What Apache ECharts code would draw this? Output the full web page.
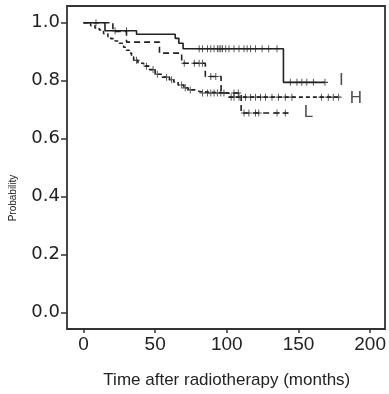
<!DOCTYPE html>
<html>
<head>
<meta charset="utf-8">
<script src="https://cdn.jsdelivr.net/npm/echarts@6/dist/echarts.min.js"></script>
<style>
html,body{margin:0;padding:0;background:#fff;}
#chart{width:389px;height:394px;}
</style>
</head>
<body>
<div id="chart"></div>
<script>
// ---- Data ----
const xTickValues = [0, 50, 100, 150, 200];
const yTickValues = [0.0, 0.2, 0.4, 0.6, 0.8, 1.0];

// Group I (solid)
const timesI = [0, 15, 37, 64, 66.5, 69.5, 139.5, 168.5];
const survI  = [1.0, 0.972, 0.96, 0.946, 0.929, 0.91, 0.794, 0.794];
const censorI = [8.7, 22, 30, 80.7, 83, 86.5, 88.8, 91.1, 93.4, 94.6, 95.8, 97, 99.2, 101.5, 105, 108.5, 112, 114.2, 116.6, 120, 124.6, 129.2, 135, 144.3, 148.9, 152.3, 155.8, 160.4, 168.5];

// Group H (fine dashes)
const timesH = [0, 5, 8, 11, 14, 17, 19, 22, 25, 28, 30, 32, 33.5, 35, 38, 42, 46, 50, 55, 60, 63, 66, 70, 73, 78, 81, 101.5, 178];
const survH  = [1.0, 0.99, 0.982, 0.975, 0.962, 0.952, 0.945, 0.937, 0.929, 0.915, 0.905, 0.895, 0.882, 0.87, 0.86, 0.85, 0.838, 0.822, 0.812, 0.803, 0.795, 0.785, 0.775, 0.768, 0.762, 0.757, 0.743, 0.743];
const censorH = [37, 44, 48.5, 51.5, 58, 61.5, 68.5, 71, 74.5, 83, 86.5, 88.8, 91.1, 93.4, 95.8, 98, 103, 105, 108.5, 113, 116.6, 120, 123.5, 127, 131.5, 136, 140.8, 145.4, 166, 170.8, 174.3, 178];

// Group L (dashed)
const timesL = [0, 20.5, 30, 53, 68.5, 85, 96, 110, 143];
const survL  = [1.0, 0.97, 0.933, 0.895, 0.86, 0.814, 0.757, 0.688, 0.688];
const censorL = [70.3, 77.3, 80.7, 83, 88.8, 92.3, 105, 108, 112, 115.4, 120, 122.3, 135, 140.8];

// Group labels (position in data units)
const groupNames = ['I', 'H', 'L'];
const groupLabelX = [180, 190, 157];
const groupLabelY = [0.80, 0.739, 0.689];

// ---- Helpers ----
function pairs(t, s) { return t.map((v, i) => [v, s[i]]); }
function survAt(t, s, x) {
  let v = s[0];
  for (let i = 0; i < t.length; i++) { if (t[i] <= x) v = s[i]; }
  return v;
}
function censorPts(times, t, s) { return times.map(x => [x, survAt(t, s, x)]); }

const ink = '#222';
const plus = 'path://M5,0L5,10M0,5L10,5';

function curve(name, t, s, type) {
  return {
    name, type: 'line', step: 'end', data: pairs(t, s),
    showSymbol: false, clip: false, xAxisIndex: 0, yAxisIndex: 0,
    lineStyle: { color: ink, width: 1.6, type: type },
    animation: false, silent: true
  };
}
function censors(name, times, t, s) {
  return {
    name: name + ' censored', type: 'scatter', data: censorPts(times, t, s),
    symbol: plus, symbolSize: [6, 7], clip: false, xAxisIndex: 0, yAxisIndex: 0,
    itemStyle: { color: 'rgba(0,0,0,0)', borderColor: ink, borderWidth: 1 },
    animation: false, silent: true
  };
}

const chart = echarts.init(document.getElementById('chart'), null, { renderer: 'canvas' });
chart.setOption({
  backgroundColor: '#fff',
  animation: false,
  grid: [
    { left: 83.5, right: 17, top: 22.7, bottom: 80.7, show: false },
    { left: 67, right: 4, top: 6, bottom: 65, show: true, borderColor: '#333', borderWidth: 1.8, backgroundColor: 'transparent' }
  ],
  xAxis: [
    {
      gridIndex: 0, type: 'value', min: xTickValues[0], max: xTickValues[xTickValues.length - 1], interval: 50,
      offset: 15.7,
      axisLine: { show: false, onZero: false },
      axisTick: { show: true, length: 5, lineStyle: { color: '#333', width: 1.5 } },
      axisLabel: { margin: 7, fontSize: 19, fontFamily: 'Liberation Sans', color: '#222' },
      splitLine: { show: false },
      name: 'Time after radiotherapy (months)', nameLocation: 'middle', nameGap: 44,
      nameTextStyle: { fontSize: 17, fontFamily: 'Liberation Sans', color: '#222' }
    },
    { gridIndex: 1, type: 'value', show: false, min: 0, max: 1 }
  ],
  yAxis: [
    {
      gridIndex: 0, type: 'value', min: yTickValues[0], max: yTickValues[yTickValues.length - 1], interval: 0.2,
      offset: 16.5,
      axisLine: { show: false, onZero: false },
      axisTick: { show: true, length: 6, lineStyle: { color: '#333', width: 1.5 } },
      axisLabel: { margin: 7, fontSize: 18, fontFamily: 'DejaVu Sans', color: '#222', formatter: v => v.toFixed(1) },
      splitLine: { show: false }
    },
    { gridIndex: 1, type: 'value', show: false, min: 0, max: 1 }
  ],
  graphic: [
    {
      type: 'text', x: 13, y: 198, rotation: Math.PI / 2,
      style: { text: 'Probability', font: '10px "Liberation Sans"', fill: '#222', textAlign: 'center', textVerticalAlign: 'middle' }
    }
  ],
  series: [
    curve('I', timesI, survI, 'solid'),
    curve('H', timesH, survH, [4, 3]),
    curve('L', timesL, survL, [6, 4]),
    censors('I', censorI, timesI, survI),
    censors('H', censorH, timesH, survH),
    censors('L', censorL, timesL, survL),
    {
      name: 'labels', type: 'scatter', xAxisIndex: 0, yAxisIndex: 0, clip: false,
      data: groupNames.map((n, i) => ({ name: n, value: [groupLabelX[i], groupLabelY[i]] })),
      symbolSize: 0,
      label: { show: true, position: 'inside', formatter: p => p.name, fontSize: 17, fontFamily: 'Liberation Sans', color: '#222' },
      animation: false, silent: true
    }
  ]
});
</script>
</body>
</html>
